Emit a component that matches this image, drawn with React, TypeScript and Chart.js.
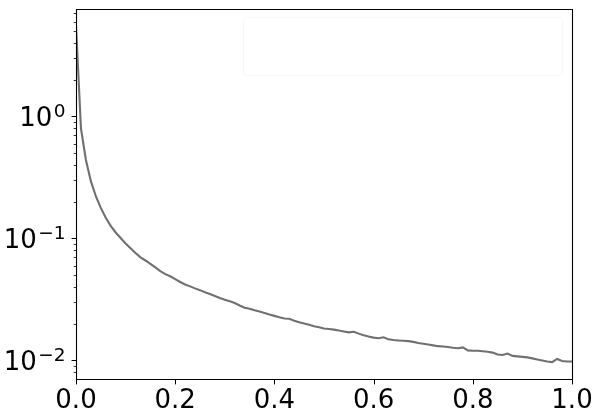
import { useEffect, useRef } from "react";
import { Chart, registerables } from "chart.js";

Chart.register(...registerables);

const xValues = [
  0.0, 0.01, 0.02, 0.03, 0.04, 0.05, 0.06, 0.07, 0.08, 0.09,
  0.1, 0.11, 0.12, 0.13, 0.14, 0.15, 0.16, 0.17, 0.18, 0.19,
  0.2, 0.21, 0.22, 0.23, 0.24, 0.25, 0.26, 0.27, 0.28, 0.29,
  0.3, 0.31, 0.32, 0.33, 0.34, 0.35, 0.36, 0.37, 0.38, 0.39,
  0.4, 0.41, 0.42, 0.43, 0.44, 0.45, 0.46, 0.47, 0.48, 0.49,
  0.5, 0.51, 0.52, 0.53, 0.54, 0.55, 0.56, 0.57, 0.58, 0.59,
  0.6, 0.61, 0.62, 0.63, 0.64, 0.65, 0.66, 0.67, 0.68, 0.69,
  0.7, 0.71, 0.72, 0.73, 0.74, 0.75, 0.76, 0.77, 0.78, 0.79,
  0.8, 0.81, 0.82, 0.83, 0.84, 0.85, 0.86, 0.87, 0.88, 0.89,
  0.9, 0.91, 0.92, 0.93, 0.94, 0.95, 0.96, 0.97, 0.98, 0.99,
  1.0,
];

const yValues = [
  5.6, 0.8, 0.44, 0.295, 0.222, 0.178, 0.148, 0.127, 0.112, 0.101,
  0.091, 0.083, 0.076, 0.07, 0.066, 0.062, 0.058, 0.054, 0.051, 0.049,
  0.0465, 0.044, 0.042, 0.0405, 0.039, 0.0377, 0.0362, 0.035, 0.0338, 0.0325,
  0.0315, 0.0306, 0.0296, 0.0282, 0.0271, 0.0265, 0.0258, 0.0252, 0.0245, 0.0238,
  0.0232, 0.0226, 0.0221, 0.022, 0.0212, 0.0206, 0.0201, 0.0196, 0.0191, 0.0187,
  0.0183, 0.0181, 0.0179, 0.0176, 0.0173, 0.017, 0.0172, 0.0166, 0.0161, 0.0157,
  0.0154, 0.0152, 0.0155, 0.0149, 0.0147, 0.0146, 0.0145, 0.0144, 0.0142, 0.0139,
  0.0137, 0.0135, 0.0133, 0.0131, 0.013, 0.0129, 0.0127, 0.0126, 0.0128, 0.0121,
  0.012, 0.012, 0.0119, 0.0118, 0.0116, 0.0112, 0.0111, 0.0114, 0.0109, 0.0108,
  0.0107, 0.0106, 0.0104, 0.0102, 0.01, 0.0098, 0.0097, 0.0103, 0.0099, 0.0098,
  0.0098,
];

const xTickValues = [0, 0.2, 0.4, 0.6, 0.8, 1.0];
const yMajorTicks = [0.01, 0.1, 1];
const yTickBase = "10";
const yTickExponents = ["\u22122", "\u22121", "0"];

const X_MIN = 0;
const X_MAX = 1;
const Y_MIN = 0.00705;
const Y_MAX = 7.6;

const FONT = '"DejaVu Sans", "Liberation Sans", sans-serif';
const BASE_SIZE = 26;
const SUP_SIZE = 18.5;

const axisDecor = {
  id: "axisDecor",
  beforeDatasetsDraw(chart: any) {
    const ctx = chart.ctx;
    ctx.save();
    // faint legend frame
    const x0 = 243.5, y0 = 17.5, x1 = 562.5, y1 = 75.5, r = 4;
    ctx.beginPath();
    ctx.moveTo(x0 + r, y0);
    ctx.lineTo(x1 - r, y0);
    ctx.quadraticCurveTo(x1, y0, x1, y0 + r);
    ctx.lineTo(x1, y1 - r);
    ctx.quadraticCurveTo(x1, y1, x1 - r, y1);
    ctx.lineTo(x0 + r, y1);
    ctx.quadraticCurveTo(x0, y1, x0, y1 - r);
    ctx.lineTo(x0, y0 + r);
    ctx.quadraticCurveTo(x0, y0, x0 + r, y0);
    ctx.closePath();
    ctx.strokeStyle = "rgba(0,0,0,0.03)";
    ctx.lineWidth = 1;
    ctx.stroke();
    ctx.restore();
  },
  afterDraw(chart: any) {
    const { ctx, chartArea, scales } = chart;
    const { left, right, top, bottom } = chartArea;
    const xs = scales.x;
    const ys = scales.y;
    ctx.save();
    ctx.strokeStyle = "#000";
    ctx.lineWidth = 1.1;
    const L = Math.round(left) + 0.5;
    const R = Math.round(right) + 0.5;
    const T = Math.round(top) + 0.5;
    const B = Math.round(bottom) + 0.5;
    ctx.beginPath();
    ctx.moveTo(L, T);
    ctx.lineTo(R, T);
    ctx.lineTo(R, B);
    ctx.lineTo(L, B);
    ctx.closePath();
    ctx.stroke();

    // x ticks
    ctx.lineWidth = 1;
    ctx.beginPath();
    for (const v of xTickValues) {
      const px = Math.round(xs.getPixelForValue(v)) + 0.5;
      ctx.moveTo(px, B);
      ctx.lineTo(px, B + 4.9);
    }
    // y major ticks
    for (const v of yMajorTicks) {
      const py = Math.round(ys.getPixelForValue(v)) + 0.5;
      ctx.moveTo(L, py);
      ctx.lineTo(L - 4.9, py);
    }
    ctx.stroke();
    // y minor ticks
    ctx.lineWidth = 0.8;
    ctx.beginPath();
    for (let n = -3; n <= 1; n++) {
      for (let k = 2; k <= 9; k++) {
        const v = k * Math.pow(10, n);
        if (v < Y_MIN || v > Y_MAX) continue;
        const py = Math.round(ys.getPixelForValue(v)) + 0.5;
        ctx.moveTo(L, py);
        ctx.lineTo(L - 2.8, py);
      }
    }
    ctx.stroke();

    // y labels with superscripts
    ctx.fillStyle = "#000";
    ctx.textAlign = "left";
    ctx.textBaseline = "alphabetic";
    const xr = left - 10.5;
    for (let i = 0; i < yMajorTicks.length; i++) {
      const py = ys.getPixelForValue(yMajorTicks[i]);
      ctx.font = `${SUP_SIZE}px ${FONT}`;
      const ws = ctx.measureText(yTickExponents[i]).width;
      ctx.font = `${BASE_SIZE}px ${FONT}`;
      const wb = ctx.measureText(yTickBase).width;
      ctx.fillText(yTickBase, xr - ws - wb - 1.5, py + 9.8);
      ctx.font = `${SUP_SIZE}px ${FONT}`;
      ctx.fillText(yTickExponents[i], xr - ws, py + 0.5);
    }
    ctx.restore();
  },
};

export default function App() {
  const ref = useRef<HTMLCanvasElement | null>(null);

  useEffect(() => {
    if (!ref.current) return;
    const points = xValues.map((x, i) => ({ x, y: yValues[i] }));
    const chart = new Chart(ref.current, {
      type: "line",
      data: {
        datasets: [
          {
            data: points,
            borderColor: "#707070",
            borderWidth: 2.1,
            pointRadius: 0,
            tension: 0,
            fill: false,
          },
        ],
      },
      options: {
        animation: false,
        responsive: false,
        devicePixelRatio: 1,
        layout: { padding: { left: 0, top: 9, right: 31, bottom: 0 } },
        plugins: {
          legend: { display: false },
          tooltip: { enabled: false },
        },
        scales: {
          x: {
            type: "linear",
            min: X_MIN,
            max: X_MAX,
            afterBuildTicks: (s: any) => {
              s.ticks = xTickValues.map((v) => ({ value: v }));
            },
            afterFit: (s: any) => {
              s.height = 36;
            },
            grid: { display: false, drawTicks: false },
            border: { display: false },
            ticks: {
              autoSkip: false,
              maxRotation: 0,
              minRotation: 0,
              padding: 7,
              color: "#000",
              font: { family: FONT, size: BASE_SIZE },
              callback: (v: any) => Number(v).toFixed(1),
            },
          },
          y: {
            type: "logarithmic",
            min: Y_MIN,
            max: Y_MAX,
            afterFit: (s: any) => {
              s.width = 76;
            },
            grid: { display: false, drawTicks: false },
            border: { display: false },
            ticks: { display: false },
          },
        },
      },
      plugins: [axisDecor],
    });
    return () => chart.destroy();
  }, []);

  return (
    <div style={{ position: "absolute", left: 0, top: 0, width: 603, height: 415, background: "#fff" }}>
      <canvas ref={ref} width={603} height={415} style={{ width: 603, height: 415, display: "block" }} />
    </div>
  );
}
